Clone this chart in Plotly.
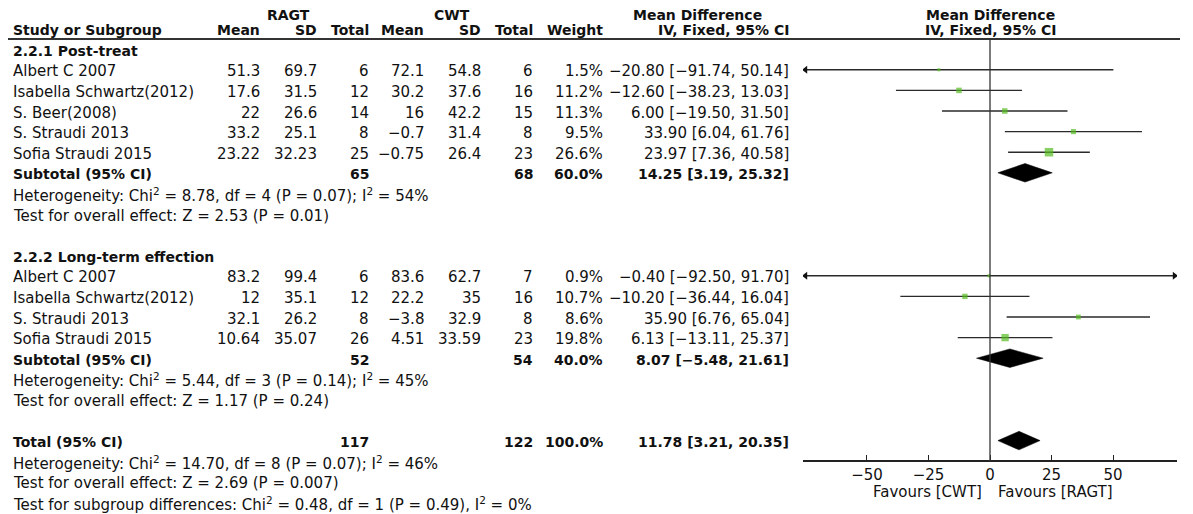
import math
import plotly.graph_objects as go

# ---- data ----
g1_title = "2.2.1 Post-treat"
g1_names = ["Albert C 2007", "Isabella Schwartz(2012)", "S. Beer(2008)", "S. Straudi 2013", "Sofia Straudi 2015"]
g1_ragt_mean = [51.3, 17.6, 22, 33.2, 23.22]
g1_ragt_sd = [69.7, 31.5, 26.6, 25.1, 32.23]
g1_ragt_n = [6, 12, 14, 8, 25]
g1_cwt_mean = [72.1, 30.2, 16, -0.7, -0.75]
g1_cwt_sd = [54.8, 37.6, 42.2, 31.4, 26.4]
g1_cwt_n = [6, 16, 15, 8, 23]
g1_weight = [1.5, 11.2, 11.3, 9.5, 26.6]
g1_md = [-20.80, -12.60, 6.00, 33.90, 23.97]
g1_lo = [-91.74, -38.23, -19.50, 6.04, 7.36]
g1_hi = [50.14, 13.03, 31.50, 61.76, 40.58]
g1_sub = dict(n1=65, n2=68, w=60.0, md=14.25, lo=3.19, hi=25.32)
g1_het = "Heterogeneity: Chi<sup>2</sup> = 8.78, df = 4 (P = 0.07); I<sup>2</sup> = 54%"
g1_test = "Test for overall effect: Z = 2.53 (P = 0.01)"

g2_title = "2.2.2 Long-term effection"
g2_names = ["Albert C 2007", "Isabella Schwartz(2012)", "S. Straudi 2013", "Sofia Straudi 2015"]
g2_ragt_mean = [83.2, 12, 32.1, 10.64]
g2_ragt_sd = [99.4, 35.1, 26.2, 35.07]
g2_ragt_n = [6, 12, 8, 26]
g2_cwt_mean = [83.6, 22.2, -3.8, 4.51]
g2_cwt_sd = [62.7, 35, 32.9, 33.59]
g2_cwt_n = [7, 16, 8, 23]
g2_weight = [0.9, 10.7, 8.6, 19.8]
g2_md = [-0.40, -10.20, 35.90, 6.13]
g2_lo = [-92.50, -36.44, 6.76, -13.11]
g2_hi = [91.70, 16.04, 65.04, 25.37]
g2_sub = dict(n1=52, n2=54, w=40.0, md=8.07, lo=-5.48, hi=21.61)
g2_het = "Heterogeneity: Chi<sup>2</sup> = 5.44, df = 3 (P = 0.14); I<sup>2</sup> = 45%"
g2_test = "Test for overall effect: Z = 1.17 (P = 0.24)"

total = dict(n1=117, n2=122, w=100.0, md=11.78, lo=3.21, hi=20.35)
total_notes = [
    "Heterogeneity: Chi<sup>2</sup> = 14.70, df = 8 (P = 0.07); I<sup>2</sup> = 46%",
    "Test for overall effect: Z = 2.69 (P = 0.007)",
    "Test for subgroup differences: Chi<sup>2</sup> = 0.48, df = 1 (P = 0.49), I<sup>2</sup> = 0%",
]
tick_vals = [-50, -25, 0, 25, 50]

# ---- layout helpers ----
OFF = 8                      # page body margin
W, H = 1193 - OFF, 514 - OFF
ROW0, ROWH = 8, 20.6         # page y of row 0, row pitch
XMIN, XMAX = -76, 76
FONT = "DejaVu Sans"
FS, FSB = 15, 14
TXT = "#111111"
GREEN = "#55bb22"
TOP = 0.35                   # first header row sits a little lower (page margin)

# right edges of the table columns (page px)
COLS = [262, 319, 371, 426, 483, 535, 605, 791]
LEFT = 11


def fx(p):
    return (p - OFF) / W


def neg(s):
    return s.replace("-", "\u2212")


def num(v):
    return neg("{:g}".format(v))


def ci(md, lo, hi):
    return neg(f"{md:.2f} [{lo:.2f}, {hi:.2f}]")


fig = go.Figure()
ann = []


def text(x, row, s, anchor="right", bold=False, xref="paper", shift=-1.5):
    if bold:
        s = "<b>" + s + "</b>"
    ann.append(dict(x=fx(x) if xref == "paper" else x, y=row, xref=xref, yref="y", text=s,
                    showarrow=False, xanchor=anchor, yanchor="middle", yshift=shift,
                    font=dict(family=FONT, size=FSB if bold else FS, color=TXT)))


# headers
text(288, TOP, "RAGT", "center", True, shift=0)
text(452, TOP, "CWT", "center", True, shift=0)
text(697, TOP, "Mean Difference", "center", True, shift=0)
text(LEFT, 1, "Study or Subgroup", "left", True, shift=-1)
for x, s in zip(COLS, ["Mean", "SD", "Total", "Mean", "SD", "Total", "Weight", "IV, Fixed, 95% CI"]):
    text(x, 1, s, "right", True, shift=-1)
text(0, TOP, "Mean Difference", "center", True, xref="x", shift=0)
text(0, 1, "IV, Fixed, 95% CI", "center", True, xref="x", shift=-1)

groups = [
    (2, g1_title, g1_names, g1_ragt_mean, g1_ragt_sd, g1_ragt_n, g1_cwt_mean, g1_cwt_sd, g1_cwt_n,
     g1_weight, g1_md, g1_lo, g1_hi, g1_sub, g1_het, g1_test),
    (12, g2_title, g2_names, g2_ragt_mean, g2_ragt_sd, g2_ragt_n, g2_cwt_mean, g2_cwt_sd, g2_cwt_n,
     g2_weight, g2_md, g2_lo, g2_hi, g2_sub, g2_het, g2_test),
]

diamonds = []
for start, title, names, m1, s1, n1, m2, s2, n2, w, md, lo, hi, sub, het, test in groups:
    text(LEFT, start, title, "left", True)
    rows = [start + 1 + i for i in range(len(names))]
    for i, r in enumerate(rows):
        text(LEFT, r, names[i], "left")
        vals = [num(m1[i]), num(s1[i]), str(n1[i]), num(m2[i]), num(s2[i]), str(n2[i]),
                f"{w[i]:.1f}%", ci(md[i], lo[i], hi[i])]
        for x, s in zip(COLS, vals):
            text(x, r, s)
    srow = rows[-1] + 1
    text(LEFT, srow, "Subtotal (95% CI)", "left", True)
    text(COLS[2], srow, str(sub["n1"]), bold=True)
    text(COLS[5], srow, str(sub["n2"]), bold=True)
    text(COLS[6], srow, f"{sub['w']:.1f}%", bold=True)
    text(COLS[7], srow, ci(sub["md"], sub["lo"], sub["hi"]), bold=True)
    text(LEFT, srow + 1, het, "left")
    text(LEFT, srow + 2, test, "left")
    diamonds.append((srow, sub))

    # confidence interval lines
    lx, ly = [], []
    for r, a, b in zip(rows, lo, hi):
        lx += [max(a, XMIN), min(b, XMAX), None]
        ly += [r, r, None]
    fig.add_trace(go.Scatter(x=lx, y=ly, mode="lines", line=dict(color="#2a2a2a", width=1.4),
                             hoverinfo="skip"))
    # arrows for intervals past the axis
    la = [r for r, a in zip(rows, lo) if a < XMIN]
    ra = [r for r, b in zip(rows, hi) if b > XMAX]
    if la:
        fig.add_trace(go.Scatter(x=[XMIN + 1] * len(la), y=la, mode="markers",
                                 marker=dict(symbol="triangle-left", size=7, color="#111111")))
    if ra:
        fig.add_trace(go.Scatter(x=[XMAX - 1] * len(ra), y=ra, mode="markers",
                                 marker=dict(symbol="triangle-right", size=7, color="#111111")))
    # weighted squares
    fig.add_trace(go.Scatter(x=md, y=rows, mode="markers",
                             marker=dict(symbol="square", color=GREEN,
                                         size=[max(3, 1.65 * math.sqrt(v)) for v in w],
                                         line=dict(width=0))))

# overall total
trow = 21
text(LEFT, trow, "Total (95% CI)", "left", True)
text(COLS[2], trow, str(total["n1"]), bold=True)
text(COLS[5], trow, str(total["n2"]), bold=True)
text(COLS[6], trow, f"{total['w']:.1f}%", bold=True)
text(COLS[7], trow, ci(total["md"], total["lo"], total["hi"]), bold=True)
for k, s in enumerate(total_notes):
    text(LEFT, trow + 1 + k, s, "left")
diamonds.append((trow, total))

for r, d in diamonds:
    h = 0.45
    fig.add_trace(go.Scatter(x=[d["lo"], d["md"], d["hi"], d["md"], d["lo"]],
                             y=[r, r - h, r, r + h, r], mode="lines", fill="toself",
                             fillcolor="#000000", line=dict(color="#000000", width=0.5),
                             hoverinfo="skip"))

# favours labels under the axis
for s, anchor, shift in [("Favours [CWT]", "right", -6), ("Favours [RAGT]", "left", 6)]:
    ann.append(dict(x=0, y=23.5, xref="x", yref="y", text=s, showarrow=False,
                    xanchor=anchor, xshift=shift, yanchor="middle",
                    font=dict(family=FONT, size=FS, color=TXT)))

axis_row = 22
head_row = (39 - ROW0) / ROWH
shapes = [
    dict(type="line", xref="paper", yref="y", x0=fx(8), x1=fx(1180), y0=head_row, y1=head_row,
         line=dict(color="#333333", width=2)),
    dict(type="line", xref="x", yref="y", x0=0, x1=0, y0=head_row, y1=axis_row,
         line=dict(color="#333333", width=1.3)),
]

fig.update_layout(
    width=W, height=H,
    margin=dict(l=0, r=0, t=0, b=0),
    paper_bgcolor="white", plot_bgcolor="white",
    showlegend=False,
    annotations=ann, shapes=shapes,
    xaxis=dict(domain=[fx(803), fx(1177)], range=[XMIN, XMAX], anchor="free",
               position=1 - (ROW0 + ROWH * axis_row - OFF) / H,
               showline=True, linecolor="#222222", linewidth=1.5,
               ticks="inside", ticklen=5, tickcolor="#222222", tickwidth=1.3,
               tickvals=tick_vals, ticktext=[num(v) for v in tick_vals],
               tickfont=dict(family=FONT, size=FS, color=TXT),
               showgrid=False, zeroline=False, fixedrange=True),
    yaxis=dict(domain=[0, 1], range=[(OFF + H - ROW0) / ROWH, (OFF - ROW0) / ROWH],
               visible=False, fixedrange=True),
)

fig.write_html("out.html")
